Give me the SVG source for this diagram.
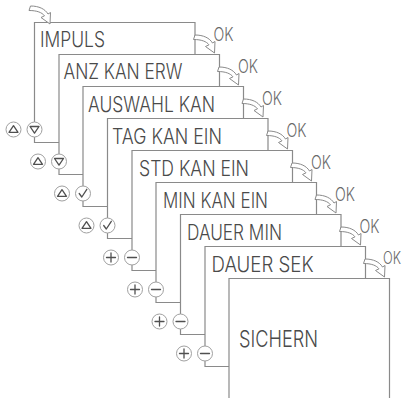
<svg xmlns="http://www.w3.org/2000/svg" xmlns:xlink="http://www.w3.org/1999/xlink" width="405" height="398" viewBox="0 0 405 398">
<defs>
<style>
.ln{fill:none;stroke:#8a8a8a;stroke-width:1.2}
.tx{font-family:Inter,"Liberation Sans",sans-serif;font-weight:300;font-size:21px;fill:#4a4a4a}
.ok{font-family:Inter,"Liberation Sans",sans-serif;font-weight:300;font-size:18px;fill:#6a6a6a}
.btn{fill:#fff;stroke:#a0a0a0;stroke-width:1}
.ic{fill:none;stroke:#505050;stroke-width:1.3;stroke-linejoin:round;stroke-linecap:round}
.arr{fill:#fff;stroke:#8a8a8a;stroke-width:1;stroke-linejoin:round}
</style>
<path id="arrow" class="arr" d="M0,0 L-9,-6.5 L-5.5,-8.2 C-8,-11.5 -13,-13.5 -21,-13.5 L-19.5,-18 C-11,-18 -5,-15 -2,-10 L0.5,-11.5 Z"/>
<g id="up"><circle class="btn" r="7.5"/><path class="ic" d="M-4.5,2.8 L0,-3.8 L4.5,2.8 Z"/></g>
<g id="down"><circle class="btn" r="7.5"/><path class="ic" d="M-4.5,-3 L4.5,-3 L0,3.6 Z"/></g>
<g id="chk"><circle class="btn" r="7.5"/><path class="ic" d="M-3.8,0 L-1.2,3.5 L3.8,-4.2"/></g>
<g id="plus"><circle class="btn" r="7.5"/><path class="ic" d="M-4.5,0 H4.5 M0,-4.5 V4.5"/></g>
<g id="minus"><circle class="btn" r="7.5"/><path class="ic" d="M-4.5,0 H4.5"/></g>
</defs>
<rect width="405" height="398" fill="#fff"/>

<g id="connectors">
<path class="ln" d="M34.5,137 V142.5 H59"/>
<path class="ln" d="M59,169 V174.5 H83"/>
<path class="ln" d="M83,201 V206.5 H107.5"/>
<path class="ln" d="M107.5,233 V238.5 H132"/>
<path class="ln" d="M132,265 V270.5 H156"/>
<path class="ln" d="M156,297 V302.5 H180.5"/>
<path class="ln" d="M180.5,329 V334.5 H205"/>
<path class="ln" d="M205,361 V366.5 H229"/>
</g>

<g id="box1">
<path class="ln" d="M34.5,122 V22.5 H195 V54.5"/>
<text class="tx" x="40" y="47" textLength="65" lengthAdjust="spacingAndGlyphs">IMPULS</text>
<use href="#up" x="13.5" y="129.5"/><use href="#down" x="34.5" y="129.5"/>
</g>
<g id="box2">
<path class="ln" d="M59,154 V54.5 H219.5 V86.5"/>
<text class="tx" x="63.5" y="79" textLength="119" lengthAdjust="spacingAndGlyphs">ANZ KAN ERW</text>
<use href="#up" x="38" y="161.5"/><use href="#down" x="59" y="161.5"/>
</g>
<g id="box3">
<path class="ln" d="M83,186 V86.5 H243.5 V118.5"/>
<text class="tx" x="88" y="111.5" textLength="127" lengthAdjust="spacingAndGlyphs">AUSWAHL KAN</text>
<use href="#up" x="62" y="193.5"/><use href="#chk" x="83" y="193.5"/>
</g>
<g id="box4">
<path class="ln" d="M107.5,218 V118.5 H268 V150.5"/>
<text class="tx" x="112" y="143.5" textLength="110" lengthAdjust="spacingAndGlyphs">TAG KAN EIN</text>
<use href="#up" x="86.5" y="225.5"/><use href="#chk" x="107.5" y="225.5"/>
</g>
<g id="box5">
<path class="ln" d="M132,250 V150.5 H292.5 V182.5"/>
<text class="tx" x="139" y="175.5" textLength="110" lengthAdjust="spacingAndGlyphs">STD KAN EIN</text>
<use href="#plus" x="111" y="257.5"/><use href="#minus" x="132" y="257.5"/>
</g>
<g id="box6">
<path class="ln" d="M156,282 V182.5 H316.5 V214.5"/>
<text class="tx" x="163" y="207.5" textLength="105" lengthAdjust="spacingAndGlyphs">MIN KAN EIN</text>
<use href="#plus" x="135" y="289.5"/><use href="#minus" x="156" y="289.5"/>
</g>
<g id="box7">
<path class="ln" d="M180.5,314 V214.5 H341 V246.5"/>
<text class="tx" x="187" y="239.5" textLength="95" lengthAdjust="spacingAndGlyphs">DAUER MIN</text>
<use href="#plus" x="159.5" y="321.5"/><use href="#minus" x="180.5" y="321.5"/>
</g>
<g id="box8">
<path class="ln" d="M205,346 V246.5 H365.5 V278.5"/>
<text class="tx" x="211.5" y="271.5" textLength="102" lengthAdjust="spacingAndGlyphs">DAUER SEK</text>
<use href="#plus" x="184" y="353.5"/><use href="#minus" x="205" y="353.5"/>
</g>
<g id="box9">
<path class="ln" d="M229,398 V278.5 H389.5 V398"/>
<text class="tx" x="239" y="347" textLength="79" lengthAdjust="spacingAndGlyphs" style="font-size:23px">SICHERN</text>
</g>

<g id="ok-arrows">
<use href="#arrow" x="50" y="24"/>
<use href="#arrow" x="214.5" y="53"/>
<use href="#arrow" x="238.5" y="85"/>
<use href="#arrow" x="263" y="117"/>
<use href="#arrow" x="287.5" y="149"/>
<use href="#arrow" x="311.5" y="181"/>
<use href="#arrow" x="336" y="213"/>
<use href="#arrow" x="360.5" y="245"/>
<use href="#arrow" x="384.5" y="277"/>
<text class="ok" x="213.5" y="40.5" textLength="20" lengthAdjust="spacingAndGlyphs">OK</text>
<text class="ok" x="238" y="72.5" textLength="20" lengthAdjust="spacingAndGlyphs">OK</text>
<text class="ok" x="262" y="104.5" textLength="20" lengthAdjust="spacingAndGlyphs">OK</text>
<text class="ok" x="286.5" y="136.5" textLength="20" lengthAdjust="spacingAndGlyphs">OK</text>
<text class="ok" x="311" y="168.5" textLength="20" lengthAdjust="spacingAndGlyphs">OK</text>
<text class="ok" x="335" y="200.5" textLength="20" lengthAdjust="spacingAndGlyphs">OK</text>
<text class="ok" x="359.5" y="232.5" textLength="20" lengthAdjust="spacingAndGlyphs">OK</text>
<text class="ok" x="383" y="264" textLength="18" lengthAdjust="spacingAndGlyphs" style="font-size:17px">OK</text>
</g>
</svg>
